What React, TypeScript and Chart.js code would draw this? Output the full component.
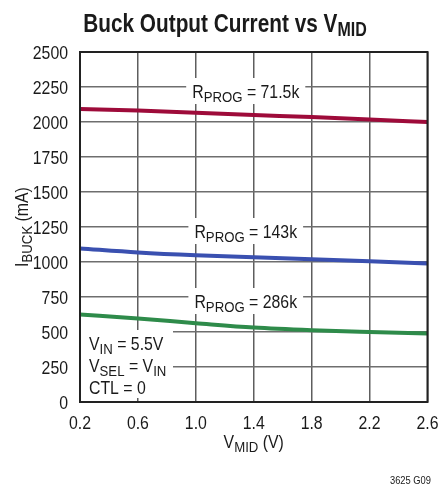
import React, { useEffect, useRef } from "react";
import { Chart, registerables } from "chart.js";

Chart.register(...registerables);

const vMid = [0.2, 0.6, 1.0, 1.4, 1.8, 2.2, 2.6];
const r71k = [2093, 2082, 2066, 2050, 2035, 2018, 2000];
const r143k = [1097, 1068, 1048, 1034, 1019, 1005, 990];
const r286k = [625, 596, 563, 532, 513, 500, 489];
const xTicks = [0.2, 0.6, 1.0, 1.4, 1.8, 2.2, 2.6];
const yTicks = [0, 250, 500, 750, 1000, 1250, 1500, 1750, 2000, 2250, 2500];

const FONT = "'Liberation Sans', Arial, sans-serif";
const TEXT = "#1a1a1a";

type Seg = { t: string; sub?: boolean };

function richWidth(ctx: CanvasRenderingContext2D, segs: Seg[], size: number, subSize: number, sx: number, weight = "normal") {
  let w = 0;
  for (const s of segs) {
    ctx.font = `${weight} ${s.sub ? subSize : size}px ${FONT}`;
    w += ctx.measureText(s.t).width * sx;
  }
  return w;
}

function drawRich(
  ctx: CanvasRenderingContext2D,
  segs: Seg[],
  x: number,
  baseline: number,
  size: number,
  subSize: number,
  subDrop: number,
  align: "left" | "center" | "right",
  sx: number,
  weight = "normal",
  color = TEXT
) {
  const w = richWidth(ctx, segs, size, subSize, sx, weight);
  let cx = align === "center" ? x - w / 2 : align === "right" ? x - w : x;
  ctx.fillStyle = color;
  ctx.textAlign = "left";
  ctx.textBaseline = "alphabetic";
  for (const s of segs) {
    ctx.font = `${weight} ${s.sub ? subSize : size}px ${FONT}`;
    const mw = ctx.measureText(s.t).width * sx;
    ctx.save();
    ctx.translate(cx, baseline + (s.sub ? subDrop : 0));
    ctx.scale(sx, 1);
    ctx.fillText(s.t, 0, 0);
    ctx.restore();
    cx += mw;
  }
  return w;
}

const annotations = {
  id: "annotations",
  beforeDatasetsDraw(chart: any) {
    const ctx: CanvasRenderingContext2D = chart.ctx;
    const xs = chart.scales.x;
    const ys = chart.scales.y;
    const area = chart.chartArea;
    ctx.save();
    const labels: { segs: Seg[]; xv: number; yv: number }[] = [
      { segs: [{ t: "R" }, { t: "PROG", sub: true }, { t: " = 71.5k" }], xv: 1.4, yv: 2250 },
      { segs: [{ t: "R" }, { t: "PROG", sub: true }, { t: " = 143k" }], xv: 1.4, yv: 1250 },
      { segs: [{ t: "R" }, { t: "PROG", sub: true }, { t: " = 286k" }], xv: 1.4, yv: 750 },
    ];
    for (const l of labels) {
      const cx = xs.getPixelForValue(l.xv) - 8;
      const cy = ys.getPixelForValue(l.yv) + 4;
      const w = richWidth(ctx, l.segs, 18, 15, 0.88);
      ctx.fillStyle = "#fff";
      ctx.fillRect(cx - w / 2 - 6, cy - 13, w + 12, 26);
      drawRich(ctx, l.segs, cx, cy + 7, 18, 15, 4, "center", 0.88);
    }
    // conditions box
    ctx.fillStyle = "#fff";
    ctx.fillRect(area.left + 1, area.bottom - 72, 92, 68);
    const lx = area.left + 9;
    drawRich(ctx, [{ t: "V" }, { t: "IN", sub: true }, { t: " = 5.5V" }], lx, area.bottom - 52, 18, 15, 4, "left", 0.88);
    drawRich(ctx, [{ t: "V" }, { t: "SEL", sub: true }, { t: " = V" }, { t: "IN", sub: true }], lx, area.bottom - 30, 18, 15, 4, "left", 0.88);
    drawRich(ctx, [{ t: "CTL = 0" }], lx, area.bottom - 8, 18, 15, 4, "left", 0.88);
    ctx.restore();
  },
  afterDraw(chart: any) {
    const ctx: CanvasRenderingContext2D = chart.ctx;
    const area = chart.chartArea;
    const xs = chart.scales.x;
    const ys = chart.scales.y;
    ctx.save();
    ctx.strokeStyle = "#222";
    ctx.lineWidth = 2;
    ctx.strokeRect(area.left, area.top, area.right - area.left, area.bottom - area.top);
    // tick labels
    for (const v of xTicks) {
      drawRich(ctx, [{ t: v.toFixed(1) }], xs.getPixelForValue(v), area.bottom + 27, 18, 15, 0, "center", 0.88);
    }
    for (const v of yTicks) {
      drawRich(ctx, [{ t: String(v) }], area.left - 12, ys.getPixelForValue(v) + 6.5, 18, 15, 0, "right", 0.88);
    }
    // title
    drawRich(ctx, [{ t: "Buck Output Current vs V" }, { t: "MID", sub: true }], 225, 32, 26, 20, 4, "center", 0.8, "bold");
    // x title
    drawRich(ctx, [{ t: "V" }, { t: "MID", sub: true }, { t: " (V)" }], (area.left + area.right) / 2, 448, 18, 15, 4, "center", 0.88);
    // y title
    ctx.translate(28, (area.top + area.bottom) / 2);
    ctx.rotate(-Math.PI / 2);
    drawRich(ctx, [{ t: "I" }, { t: "BUCK", sub: true }, { t: " (mA)" }], 0, 0, 18, 15, 4, "center", 0.88);
    ctx.restore();
    ctx.save();
    drawRich(ctx, [{ t: "3625 G09" }], 431, 484, 11, 11, 0, "right", 0.85);
    ctx.restore();
  },
};

export default function App() {
  const ref = useRef<HTMLCanvasElement>(null);
  useEffect(() => {
    if (!ref.current) return;
    const line = (data: number[], color: string) => ({
      data: vMid.map((x, i) => ({ x, y: data[i] })),
      borderColor: color,
      borderWidth: 4,
      pointRadius: 0,
      tension: 0.4,
      cubicInterpolationMode: "monotone" as const,
      fill: false,
    });
    const chart = new Chart(ref.current, {
      type: "line",
      data: {
        datasets: [
          line(r71k, "#9e0b3a"),
          line(r143k, "#3a50b0"),
          line(r286k, "#2e8b4a"),
        ],
      },
      options: {
        animation: false,
        responsive: false,
        layout: { padding: { top: 52, right: 14, left: 0, bottom: 0 } },
        plugins: { legend: { display: false }, tooltip: { enabled: false }, title: { display: false } },
        scales: {
          x: {
            type: "linear",
            min: 0.2,
            max: 2.6,
            afterBuildTicks: (s: any) => {
              s.ticks = xTicks.map((v) => ({ value: v }));
            },
            afterFit: (s: any) => {
              s.height = 85;
            },
            ticks: {
              callback: (v: any) => Number(v).toFixed(1),
              color: "rgba(0,0,0,0)",
              font: { family: FONT, size: 18 },
              padding: 6,
              maxRotation: 0,
              autoSkip: false,
            },
            grid: { color: "#5e5e5e", lineWidth: 1.5, drawTicks: false },
            border: { display: false },
          },
          y: {
            type: "linear",
            min: 0,
            max: 2500,
            afterBuildTicks: (s: any) => {
              s.ticks = yTicks.map((v) => ({ value: v }));
            },
            afterFit: (s: any) => {
              s.width = 80;
            },
            ticks: {
              callback: (v: any) => String(v),
              color: "rgba(0,0,0,0)",
              font: { family: FONT, size: 18 },
              padding: 11,
              autoSkip: false,
            },
            grid: { color: "#6e6e6e", lineWidth: 1.4, drawTicks: false },
            border: { display: false },
          },
        },
      },
      plugins: [annotations],
    });
    return () => chart.destroy();
  }, []);
  return (
    <div style={{ position: "fixed", left: 0, top: 0, width: 446, height: 487, background: "#fff" }}>
      <canvas ref={ref} width={446} height={487} />
    </div>
  );
}
